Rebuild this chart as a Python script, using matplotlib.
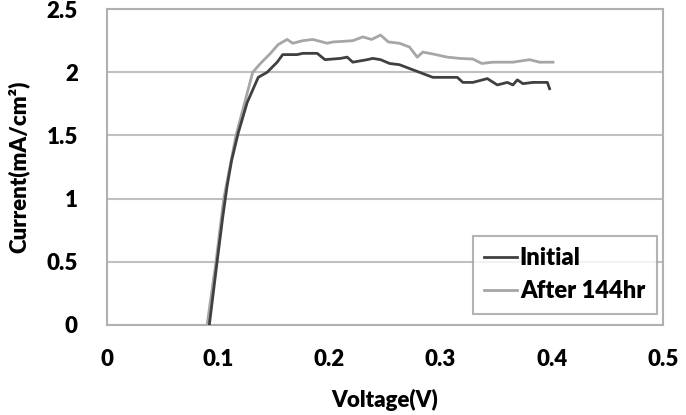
import matplotlib
matplotlib.use("Agg")
import matplotlib.pyplot as plt

# Initial curve
v_init = [0.092, 0.099, 0.104, 0.108, 0.112, 0.118, 0.126, 0.136, 0.144, 0.153,
          0.158, 0.171, 0.176, 0.189, 0.196, 0.210, 0.216, 0.221, 0.234, 0.239,
          0.246, 0.254, 0.263, 0.272, 0.281, 0.293, 0.306, 0.315, 0.320, 0.329,
          0.342, 0.351, 0.360, 0.365, 0.369, 0.374, 0.383, 0.392, 0.396, 0.398]
i_init = [0.0, 0.5, 0.85, 1.1, 1.3, 1.52, 1.76, 1.96, 2.0, 2.08,
          2.14, 2.14, 2.15, 2.15, 2.10, 2.11, 2.12, 2.08, 2.10, 2.11,
          2.10, 2.07, 2.06, 2.03, 2.00, 1.96, 1.96, 1.96, 1.92, 1.92,
          1.95, 1.90, 1.92, 1.90, 1.94, 1.91, 1.92, 1.92, 1.92, 1.87]

# After 144hr curve
v_after = [0.090, 0.098, 0.105, 0.116, 0.131, 0.138, 0.147, 0.154, 0.162, 0.167,
           0.176, 0.185, 0.198, 0.203, 0.221, 0.230, 0.238, 0.246, 0.253, 0.263,
           0.272, 0.279, 0.284, 0.293, 0.306, 0.317, 0.329, 0.337, 0.347, 0.365,
           0.380, 0.389, 0.401]
i_after = [0.0, 0.5, 1.0, 1.5, 2.0, 2.07, 2.15, 2.22, 2.26, 2.23,
           2.25, 2.26, 2.23, 2.24, 2.25, 2.28, 2.26, 2.295, 2.24, 2.23,
           2.20, 2.12, 2.16, 2.145, 2.12, 2.11, 2.105, 2.07, 2.08, 2.08,
           2.10, 2.08, 2.08]

xticks = [0, 0.1, 0.2, 0.3, 0.4, 0.5]
yticks = [0, 0.5, 1, 1.5, 2, 2.5]

plt.rcParams['font.family'] = ['Lato', 'DejaVu Sans']
plt.rcParams['font.weight'] = 'heavy'
plt.rcParams['axes.labelweight'] = 'heavy'

fig = plt.figure(figsize=(6.86, 4.15), dpi=100)
ax = fig.add_axes([0.156, 0.217, 0.8105, 0.761])

ax.plot(v_init, i_init, color='#404040', linewidth=2.0, label='Initial', zorder=3)
ax.plot(v_after, i_after, color='#a6a6a6', linewidth=2.0, label='After 144hr', zorder=2)

ax.set_xlim(0, 0.5)
ax.set_ylim(0, 2.5)
ax.set_xticks(xticks)
ax.set_xticklabels(['0', '0.1', '0.2', '0.3', '0.4', '0.5'])
ax.set_yticks(yticks)
ax.set_yticklabels(['0', '0.5', '1', '1.5', '2', '2.5'])
ax.tick_params(length=0, labelsize=16, pad=17)
ax.tick_params(axis='y', pad=21)

ax.grid(True, axis='y', color='#c0c0c0', linewidth=1.5)
ax.set_axisbelow(True)
for s in ax.spines.values():
    s.set_color('#b0b0b0')
    s.set_linewidth(1.5)

ax.set_xlabel('Voltage(V)', fontsize=16, labelpad=14)
ax.set_ylabel('Current(mA/cm²)', fontsize=16, labelpad=12)

leg = ax.legend(loc='lower right', bbox_to_anchor=(0.989, 0.035), fontsize=17,
                frameon=True, fancybox=False, handlelength=1.4, handletextpad=0.1,
                borderpad=0.5, labelspacing=0.45, borderaxespad=0)
leg.get_frame().set_edgecolor('#a0a0a0')
leg.get_frame().set_linewidth(1.5)

fig.savefig('out.png', dpi=100)
